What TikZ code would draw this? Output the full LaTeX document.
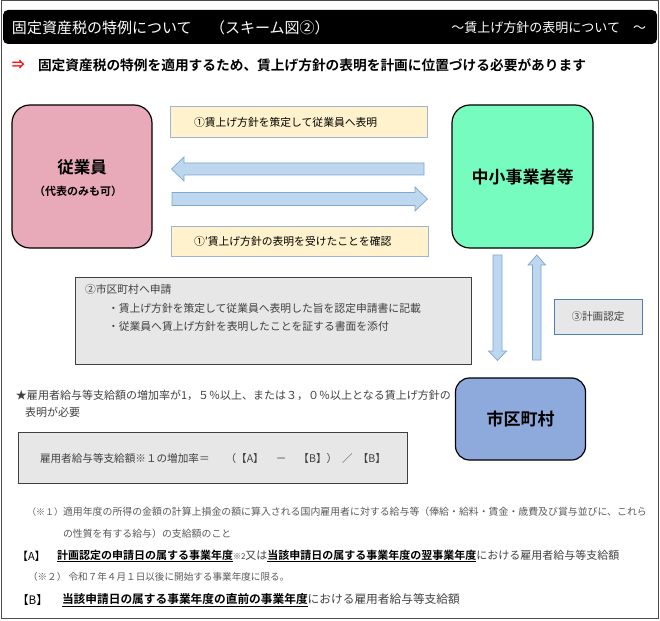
\documentclass[tikz,border=0pt]{standalone}
\usepackage{fontspec}
\setmainfont{Noto Sans CJK JP}[BoldFont={Noto Sans CJK JP Bold}]
\definecolor{pinkc}{HTML}{E8A9B8}
\definecolor{mintc}{HTML}{75FCBE}
\definecolor{bluec}{HTML}{8EA9DB}
\definecolor{yelc}{HTML}{FFF2CC}
\definecolor{yelb}{HTML}{9DB5D6}
\definecolor{arrf}{HTML}{BDD7EE}
\definecolor{arrb}{HTML}{7FA6D0}
\definecolor{grayf}{HTML}{E7E7E7}
\definecolor{steelb}{HTML}{4F7FB5}
\definecolor{txtg}{HTML}{404040}
\definecolor{txtl}{HTML}{595959}
\begin{document}
\begin{tikzpicture}[x=1pt,y=-1pt,
  every node/.style={inner sep=0pt, outer sep=0pt},
  bigbox/.style={draw=black, line width=1.2pt, rounded corners=18pt, align=center},
  labelbox/.style={draw=yelb, line width=0.8pt, fill=yelc, minimum width=257pt, minimum height=30.5pt},
  blockarrow/.style={draw=arrb, line width=0.7pt, fill=arrf, line join=miter},
  graybox/.style={draw=black!75, line width=0.9pt, fill=grayf},
  txt/.style={anchor=west, font=\fontsize{10.8pt}{12pt}\selectfont, text=txtg}
]
\useasboundingbox (0,0) rectangle (660,620);
\draw[line width=1pt, draw=black!70] (1,1) rectangle (658,618);

% header
\node[fill=black, rounded corners=5pt, minimum width=654pt, minimum height=34pt] (head) at (330,27) {};
\node[anchor=west, text=white, font=\fontsize{15pt}{17pt}\selectfont] (htitle) at (12,28) {固定資産税の特例について};
\node[anchor=west, text=white, font=\fontsize{15pt}{17pt}\selectfont] (hsub) at (210,28) {（スキーム図②）};
\node[anchor=east, text=white, font=\fontsize{13pt}{15pt}\selectfont] (hright) at (646,28) {～賃上げ方針の表明について　～};

% lead line
\node[anchor=west, text=red, font=\bfseries\fontsize{13pt}{15pt}\selectfont] (lead0) at (12,65) {⇒};
\node[anchor=west, font=\bfseries\fontsize{13.7pt}{15pt}\selectfont] (lead) at (38,65) {固定資産税の特例を適用するため、賃上げ方針の表明を計画に位置づける必要があります};

% main boxes
\node[bigbox, fill=pinkc, minimum width=140pt, minimum height=143pt] (emp) at (82,176.5) {};
\node[font=\bfseries\fontsize{16.5pt}{18pt}\selectfont] (empt) at (82,167) {従業員};
\node[font=\bfseries\fontsize{11pt}{13pt}\selectfont] (emps) at (78,191) {（代表のみも可）};

\node[bigbox, fill=mintc, minimum width=141pt, minimum height=143pt, font=\bfseries\fontsize{17pt}{19pt}\selectfont] (smb) at (522.5,176.5) {中小事業者等};

\node[bigbox, fill=bluec, minimum width=130pt, minimum height=82pt, rounded corners=14pt, font=\bfseries\fontsize{17pt}{19pt}\selectfont] (city) at (520.5,419) {市区町村};

% label boxes
\node[labelbox] (l1) at (299,122) {};
\node[txt, text=black] (l1t) at (194,122) {①賃上げ方針を策定して従業員へ表明};
\node[labelbox] (l2) at (300,241.5) {};
\node[txt, text=black] (l2t) at (194,241.5) {①′賃上げ方針の表明を受けたことを確認};

% horizontal block arrows
\draw[blockarrow] (424,163) -- (184,163) -- (184,157) -- (171.5,169) -- (184,181) -- (184,175) -- (424,175) -- cycle;
\draw[blockarrow] (172,192.5) -- (415,192.5) -- (415,187) -- (427.5,199) -- (415,211) -- (415,205.5) -- (172,205.5) -- cycle;

% box 2
\node[graybox, minimum width=396pt, minimum height=87pt] (app) at (273.5,320.5) {};
\node[txt] (a1) at (85,289) {②市区町村へ申請};
\node[txt] (a2) at (108,308) {・賃上げ方針を策定して従業員へ表明した旨を認定申請書に記載};
\node[txt] (a3) at (108,326) {・従業員へ賃上げ方針を表明したことを証する書面を添付};

% vertical block arrows
\draw[blockarrow] (493,255) -- (502,255) -- (502,351) -- (506.5,351) -- (497.5,360.5) -- (488.5,351) -- (493,351) -- cycle;
\draw[blockarrow] (532.5,360) -- (541,360) -- (541,265) -- (545.5,265) -- (536.8,255) -- (528,265) -- (532.5,265) -- cycle;

% plan approval
\node[draw=steelb, line width=0.9pt, fill=grayf, minimum width=88pt, minimum height=35pt, font=\fontsize{10.6pt}{12pt}\selectfont, text=txtg] (plan) at (598,316.5) {③計画認定};

% star note
\node[txt, font=\fontsize{11pt}{12pt}\selectfont] (s1) at (16,395) {★雇用者給与等支給額の増加率が1，５％以上、または３，０％以上となる賃上げ方針の};
\node[txt, font=\fontsize{11pt}{12pt}\selectfont] (s2) at (25,412) {表明が必要};

% formula
\node[graybox, minimum width=389pt, minimum height=51pt] (form) at (212.5,457.5) {};
\node[txt, font=\fontsize{10.6pt}{12pt}\selectfont] (f1) at (40,458) {雇用者給与等支給額※１の増加率＝\hspace{16pt}（【A】\hspace{12pt}－\hspace{12pt}【B】）\hspace{5pt}／\hspace{5pt}【B】};

% footnotes
\node[anchor=west, font=\fontsize{9pt}{11pt}\selectfont, text=txtl] (n1a) at (27,512) {（※１）};
\node[anchor=west, font=\fontsize{9.9pt}{11pt}\selectfont, text=txtl] (n1b) at (63,512) {適用年度の所得の金額の計算上損金の額に算入される国内雇用者に対する給与等（俸給・給料・賃金・歳費及び賞与並びに、これら};
\node[anchor=west, font=\fontsize{9.9pt}{11pt}\selectfont, text=txtl] (n1c) at (63,534) {の性質を有する給与）の支給額のこと};

\node[anchor=west, font=\fontsize{11pt}{13pt}\selectfont, text=black] (ka) at (17,556) {【A】};
\node[anchor=west, font=\fontsize{11pt}{13pt}\selectfont, text=txtg] (ta) at (57,556) {{\bfseries\color{black}\underline{計画認定の申請日の属する事業年度}}{\fontsize{8pt}{9pt}\selectfont※2}又は{\bfseries\color{black}\underline{当該申請日の属する事業年度の翌事業年度}}における雇用者給与等支給額};

\node[anchor=west, font=\fontsize{9.6pt}{11pt}\selectfont, text=txtl] (n2) at (28,577) {（※２） 令和７年４月１日以後に開始する事業年度に限る。};

\node[anchor=west, font=\fontsize{11.7pt}{13pt}\selectfont, text=black] (kb) at (17,600) {【B】};
\node[anchor=west, font=\fontsize{11.7pt}{13pt}\selectfont, text=txtg] (tb) at (62,600) {{\bfseries\color{black}\underline{当該申請日の属する事業年度の直前の事業年度}}における雇用者給与等支給額};
\end{tikzpicture}
\end{document}
